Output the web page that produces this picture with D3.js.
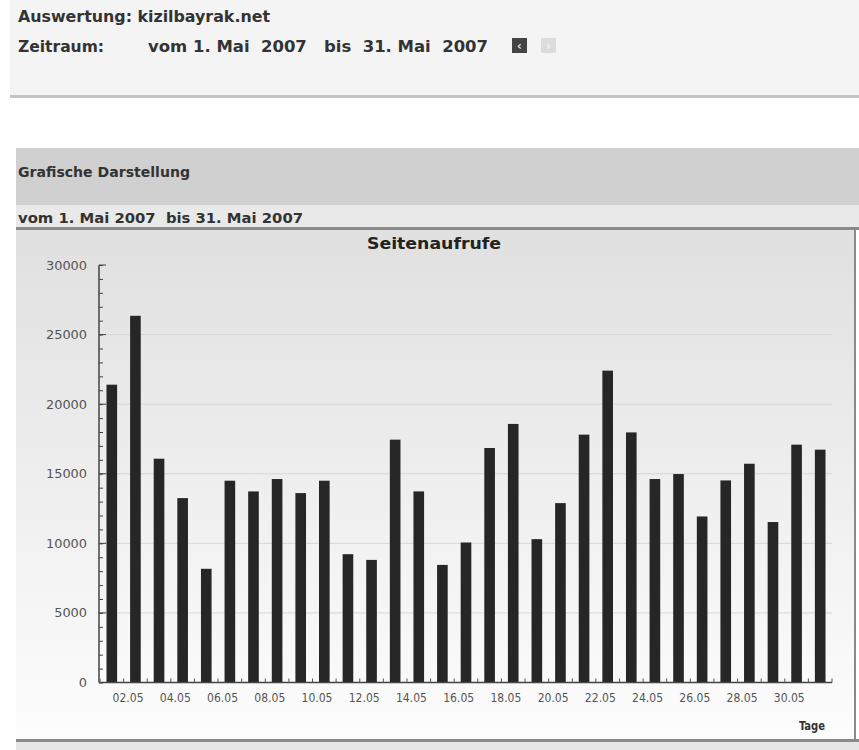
<!DOCTYPE html>
<html>
<head>
<meta charset="utf-8">
<script src="https://cdn.jsdelivr.net/npm/d3@7"></script>
<style>
  body { margin: 0; background: #fff; }
  svg text { font-family: "Liberation Sans Narrow", "DejaVu Sans Condensed", "Arial Narrow", sans-serif; }
</style>
</head>
<body>
<div id="chart"></div>
<script>
// data
var days = ["01.05","02.05","03.05","04.05","05.05","06.05","07.05","08.05","09.05","10.05",
            "11.05","12.05","13.05","14.05","15.05","16.05","17.05","18.05","19.05","20.05",
            "21.05","22.05","23.05","24.05","25.05","26.05","27.05","28.05","29.05","30.05","31.05"];
var pageViews = [21400, 26350, 16080, 13250, 8170, 14500, 13730, 14620, 13610, 14500,
                 9220, 8810, 17450, 13730, 8450, 10060, 16850, 18580, 10300, 12890,
                 17810, 22410, 17970, 14620, 14980, 11930, 14520, 15720, 11530, 17090, 16730];
var dayLabels = ["02.05","04.05","06.05","08.05","10.05","12.05","14.05","16.05",
                 "18.05","20.05","22.05","24.05","26.05","28.05","30.05"];
var yTicks = [0, 5000, 10000, 15000, 20000, 25000, 30000];

var W = 859, H = 750;

var svg = d3.select("#chart").append("svg")
    .attr("width", W)
    .attr("height", H);

var defs = svg.append("defs");
var grad = defs.append("linearGradient")
    .attr("id", "panelGrad")
    .attr("x1", 0).attr("y1", 0).attr("x2", 0).attr("y2", 1);
grad.append("stop").attr("offset", "0%").attr("stop-color", "#e0e0e0");
grad.append("stop").attr("offset", "100%").attr("stop-color", "#fdfdfd");

// helper for squeezed (narrow) text
function label(x, y, txt, size, len, weight) {
    var t = svg.append("text").attr("x", x).attr("y", y)
        .attr("font-size", size).attr("font-weight", weight || "bold").attr("fill", "#333")
        .attr("xml:space", "preserve")
        .text(txt);
    if (len) t.attr("textLength", len).attr("lengthAdjust", "spacingAndGlyphs");
    return t;
}

// ---- page header ----
svg.append("rect").attr("x", 10).attr("y", 0).attr("width", W - 10).attr("height", 95).attr("fill", "#f4f4f4");
svg.append("rect").attr("x", 10).attr("y", 95).attr("width", W - 10).attr("height", 3).attr("fill", "#c4c4c4");

label(18, 22, "Auswertung: kizilbayrak.net", 16, 252);
label(18, 52, "Zeitraum:", 16, 86);
label(148, 52, "vom 1. Mai  2007   bis  31. Mai  2007", 16, 340);

// prev / next buttons
svg.append("rect").attr("x", 512).attr("y", 38).attr("width", 15).attr("height", 15).attr("fill", "#444");
svg.append("text").attr("x", 519.5).attr("y", 50).attr("text-anchor", "middle")
    .attr("font-size", 13).attr("font-weight", "bold").attr("fill", "#ddd").text("‹");
svg.append("rect").attr("x", 541).attr("y", 38).attr("width", 15).attr("height", 15).attr("fill", "#dcdcdc");
svg.append("text").attr("x", 548.5).attr("y", 50).attr("text-anchor", "middle")
    .attr("font-size", 13).attr("font-weight", "bold").attr("fill", "#f4f4f4").text("›");

// ---- section header ----
svg.append("rect").attr("x", 16).attr("y", 148).attr("width", W - 16).attr("height", 57).attr("fill", "#d0d0d0");
label(18, 177, "Grafische Darstellung", 14, 172);
svg.append("rect").attr("x", 16).attr("y", 205).attr("width", W - 16).attr("height", 22).attr("fill", "#e9e9e9");
label(18, 223, "vom 1. Mai 2007  bis 31. Mai 2007", 14, 285);
svg.append("rect").attr("x", 16).attr("y", 227).attr("width", W - 16).attr("height", 3).attr("fill", "#8a8a8a");

// ---- chart panel ----
svg.append("rect").attr("x", 16).attr("y", 230).attr("width", 839).attr("height", 510)
    .attr("fill", "url(#panelGrad)");
svg.append("line").attr("x1", 855).attr("x2", 855).attr("y1", 230).attr("y2", 741)
    .attr("stroke", "#8a8a8a").attr("stroke-width", 2);
svg.append("rect").attr("x", 16).attr("y", 739).attr("width", W - 16).attr("height", 3).attr("fill", "#8a8a8a");
svg.append("rect").attr("x", 16).attr("y", 742).attr("width", W - 16).attr("height", 8).attr("fill", "#e6e6e6");

label(367, 249, "Seitenaufrufe", 16, 134).attr("fill", "#222");

var plotLeft = 99, plotRight = 832, plotTop = 265, plotBottom = 682.5;

var x = d3.scaleBand()
    .domain(days)
    .range([100, plotRight])
    .paddingInner(0.55)
    .paddingOuter(0.275);

var y = d3.scaleLinear()
    .domain([0, 30000])
    .range([plotBottom, plotTop]);

// faint grid lines
svg.append("g").selectAll("line")
    .data(yTicks.slice(1, -1))
    .join("line")
    .attr("x1", plotLeft + 1).attr("x2", plotRight)
    .attr("y1", d => y(d)).attr("y2", d => y(d))
    .attr("stroke", "#d6d6d6").attr("stroke-width", 1);

// bars
svg.append("g").selectAll("rect")
    .data(pageViews)
    .join("rect")
    .attr("x", (d, i) => x(days[i]))
    .attr("y", d => y(d))
    .attr("width", x.bandwidth())
    .attr("height", d => plotBottom - y(d))
    .attr("fill", "#262626");

// y axis: minor ticks every 1000, longer ticks at the labels, all pointing inward
var yAxis = svg.append("g").attr("transform", "translate(" + plotLeft + ",0)");
yAxis.call(d3.axisRight(y).tickValues(d3.range(0, 30001, 1000)).tickSize(4).tickFormat(""));
yAxis.call(g => g.selectAll(".tick line").attr("stroke", "#444"));
yAxis.call(g => g.select(".domain").attr("stroke", "#444").attr("stroke-width", 1.5).attr("d", "M0," + plotTop + "V" + plotBottom));
yAxis.append("g").selectAll("line")
    .data(yTicks)
    .join("line")
    .attr("x1", 0).attr("x2", 7)
    .attr("y1", d => y(d)).attr("y2", d => y(d))
    .attr("stroke", "#444");

svg.append("g").selectAll("text")
    .data(yTicks)
    .join("text")
    .attr("x", 87)
    .attr("y", d => y(d) + 4.5)
    .attr("text-anchor", "end")
    .attr("font-size", 13)
    .attr("fill", "#555")
    .attr("textLength", d => String(d).length * 8.2)
    .attr("lengthAdjust", "spacingAndGlyphs")
    .text(d => d);

// x axis line with small upward ticks at band boundaries
svg.append("line")
    .attr("x1", plotLeft).attr("x2", plotRight)
    .attr("y1", plotBottom).attr("y2", plotBottom)
    .attr("stroke", "#444").attr("stroke-width", 1.5);
svg.append("g").selectAll("line")
    .data(days)
    .join("line")
    .attr("x1", d => x(d) - x.step() * x.paddingOuter())
    .attr("x2", d => x(d) - x.step() * x.paddingOuter())
    .attr("y1", plotBottom).attr("y2", plotBottom - 4)
    .attr("stroke", "#555");
svg.append("line")
    .attr("x1", plotRight).attr("x2", plotRight)
    .attr("y1", plotBottom).attr("y2", plotBottom - 4)
    .attr("stroke", "#555");

svg.append("g").selectAll("text")
    .data(dayLabels)
    .join("text")
    .attr("x", d => x(d) - 2)
    .attr("y", plotBottom + 19.5)
    .attr("text-anchor", "middle")
    .attr("font-size", 13)
    .attr("fill", "#555")
    .attr("textLength", 31)
    .attr("lengthAdjust", "spacingAndGlyphs")
    .text(d => d);

svg.append("text").attr("x", 812).attr("y", 730).attr("text-anchor", "middle")
    .attr("font-size", 12).attr("font-weight", "bold").attr("fill", "#333")
    .attr("textLength", 26).attr("lengthAdjust", "spacingAndGlyphs")
    .text("Tage");
</script>
</body>
</html>
